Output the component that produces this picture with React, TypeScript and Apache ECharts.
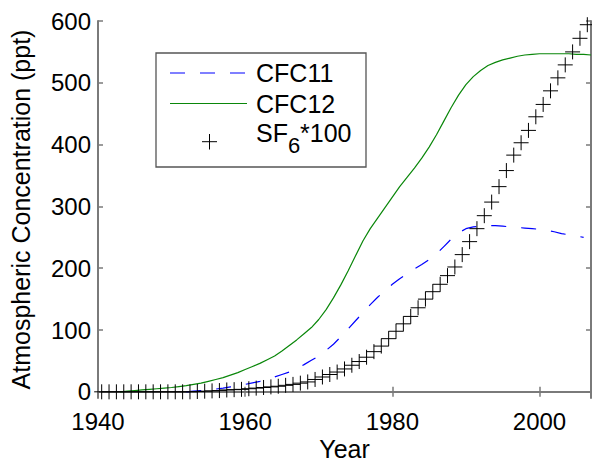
import React, { useEffect, useRef } from "react";
import * as echarts from "echarts";

const xTickValues = [1940, 1960, 1980, 2000];
const yTickValues = [0, 100, 200, 300, 400, 500, 600];

const cfc11Years = [
  1952, 1953, 1954, 1955, 1956, 1957, 1958, 1959, 1960, 1961, 1962, 1963, 1964, 1965,
  1966, 1967, 1968, 1969, 1970, 1971, 1972, 1973, 1974, 1975, 1976, 1977, 1978, 1979,
  1980, 1981, 1982, 1983, 1984, 1985, 1986, 1987, 1988, 1989, 1990, 1991, 1992, 1993,
  1994, 1995, 1996, 1997, 1998, 1999, 2000, 2001, 2002, 2003, 2004, 2005, 2006,
];
const cfc11Values = [
  0, 1, 2, 3, 4.5, 6, 8, 10, 12, 14.5, 17, 20, 24, 28,
  32, 38, 44, 51, 58, 67, 77, 89, 102, 115, 128, 141, 153, 164,
  174, 183, 191, 199, 206, 214, 223, 235, 247, 257, 264, 267, 268, 269,
  269, 268, 267, 266, 265, 264, 263, 261, 259, 256, 254, 252, 250,
];

const cfc12Years = [
  1943, 1944, 1945, 1946, 1947, 1948, 1949, 1950, 1951, 1952, 1953, 1954, 1955, 1956,
  1957, 1958, 1959, 1960, 1961, 1962, 1963, 1964, 1965, 1966, 1967, 1968, 1969, 1970,
  1971, 1972, 1973, 1974, 1975, 1976, 1977, 1978, 1979, 1980, 1981, 1982, 1983, 1984,
  1985, 1986, 1987, 1988, 1989, 1990, 1991, 1992, 1993, 1994, 1995, 1996, 1997, 1998,
  1999, 2000, 2001, 2002, 2003, 2004, 2005, 2006, 2007,
];
const cfc12Values = [
  0, 1, 2, 3, 4, 5, 6, 7, 8.5, 10, 12, 14, 17, 20,
  23, 27, 31, 36, 41, 46, 52, 58, 66, 75, 84, 94, 104, 117,
  133, 152, 173, 196, 220, 244, 264, 281, 298, 315, 332, 347, 362, 378,
  396, 416, 438, 460, 480, 497, 510, 520, 528, 533, 537, 540, 543, 545,
  546, 547, 547, 547, 547, 547, 546, 546, 545,
];

const sf6Years = [
  1940.5, 1941.5, 1942.5, 1943.5, 1944.5, 1945.5, 1946.5, 1947.5, 1948.5, 1949.5,
  1950.5, 1951.5, 1952.5, 1953.5, 1954.5, 1955.5, 1956.5, 1957.5, 1958.5, 1959.5,
  1960.5, 1961.5, 1962.5, 1963.5, 1964.5, 1965.5, 1966.5, 1967.5, 1968.5, 1969.5,
  1970.5, 1971.5, 1972.5, 1973.5, 1974.5, 1975.5, 1976.5, 1977.5, 1978.5, 1979.5,
  1980.5, 1981.5, 1982.5, 1983.5, 1984.5, 1985.5, 1986.5, 1987.5, 1988.5, 1989.5,
  1990.5, 1991.5, 1992.5, 1993.5, 1994.5, 1995.5, 1996.5, 1997.5, 1998.5, 1999.5,
  2000.5, 2001.5, 2002.5, 2003.5, 2004.5, 2005.5, 2006.5,
];
const sf6x100Values = [
  0, 0, 0, 0, 0, 0, 0, 0, 0, 0,
  0, 0, 0, 0.5, 1, 1.5, 2, 3, 3.5, 4,
  5, 6, 7, 8, 9, 10.5, 12, 14, 16, 20,
  24, 28, 32, 37, 43, 49, 56, 65, 74, 86,
  98, 110, 122, 136, 150, 162, 174, 188, 202, 222,
  243, 264, 285, 307, 332, 358, 383, 403, 423, 445,
  465, 487, 508, 529, 550, 572, 594,
];

const FONT = "Liberation Sans, Arial, Helvetica, sans-serif";
const AXIS_COLOR = "#7a7a7a";
const CROSS = "path://M7,0L7,14M0,7L14,7";

export default function App() {
  const ref = useRef<HTMLDivElement>(null);

  useEffect(() => {
    if (!ref.current) return;
    const chart = echarts.init(ref.current, undefined, { renderer: "svg" });

    const axisCommon = {
      type: "value" as const,
      splitLine: { show: false },
      axisLine: { show: true, lineStyle: { color: AXIS_COLOR, width: 2 } },
      axisTick: { show: true, inside: true, length: 5, lineStyle: { color: AXIS_COLOR, width: 1.5 } },
    };

    chart.setOption({
      animation: false,
      backgroundColor: "#fff",
      textStyle: { fontFamily: FONT },
      grid: {
        left: 98,
        top: 21,
        width: 493,
        height: 377,
        containLabel: false,
        outerBoundsMode: "none",
      },
      xAxis: [
        {
          ...axisCommon,
          position: "bottom",
          min: 1940,
          max: 2007,
          axisTick: { ...axisCommon.axisTick, customValues: xTickValues },
          axisLabel: {
            customValues: xTickValues,
            formatter: (v: number) => String(v),
            color: "#000",
            fontSize: 24,
            fontFamily: FONT,
            margin: 11,
          },
          name: "Year",
          nameLocation: "middle",
          nameGap: 38,
          nameMoveOverlap: false,
          nameTextStyle: { color: "#000", fontSize: 25, fontFamily: FONT },
        },
        {
          ...axisCommon,
          position: "top",
          min: 1940,
          max: 2007,
          axisTick: { ...axisCommon.axisTick, customValues: xTickValues },
          axisLabel: { show: false },
        },
      ],
      yAxis: [
        {
          ...axisCommon,
          position: "left",
          min: -10,
          max: 600,
          axisTick: { ...axisCommon.axisTick, customValues: yTickValues },
          axisLabel: {
            customValues: yTickValues,
            formatter: (v: number) => String(v),
            color: "#000",
            fontSize: 24,
            fontFamily: FONT,
            margin: 7,
          },
          name: "Atmospheric Concentration (ppt)",
          nameLocation: "middle",
          nameGap: 65,
          nameMoveOverlap: false,
          nameTextStyle: { color: "#000", fontSize: 25, fontFamily: FONT },
        },
        {
          ...axisCommon,
          position: "right",
          min: -10,
          max: 600,
          axisTick: { ...axisCommon.axisTick, customValues: yTickValues },
          axisLabel: { show: false },
        },
      ],
      series: [
        {
          name: "CFC11",
          type: "line",
          xAxisIndex: 0,
          yAxisIndex: 0,
          showSymbol: false,
          symbol: "none",
          data: cfc11Years.map((y, i) => [y, cfc11Values[i]]),
          lineStyle: { color: "#0000ff", width: 1.2, type: [15, 15] },
          z: 3,
        },
        {
          name: "CFC12",
          type: "line",
          xAxisIndex: 0,
          yAxisIndex: 0,
          showSymbol: false,
          symbol: "none",
          data: cfc12Years.map((y, i) => [y, cfc12Values[i]]),
          lineStyle: { color: "#0a870a", width: 1.2 },
          z: 3,
        },
        {
          name: "SF6*100",
          type: "scatter",
          xAxisIndex: 0,
          yAxisIndex: 0,
          symbol: CROSS,
          symbolSize: 15,
          clip: false,
          data: sf6Years.map((y, i) => [y, sf6x100Values[i]]),
          itemStyle: { color: "#000", borderColor: "#000", borderWidth: 1, opacity: 1 },
          z: 4,
        },
      ],
      graphic: [
        {
          type: "rect",
          shape: { x: 156, y: 53, width: 210, height: 114 },
          style: { fill: "#fff", stroke: "#555", lineWidth: 1.3 },
          z: 10,
        },
        {
          type: "line",
          shape: { x1: 170, y1: 73, x2: 247, y2: 73 },
          style: { stroke: "#0000ff", lineWidth: 1.2, lineDash: [15, 15] },
          z: 11,
        },
        {
          type: "line",
          shape: { x1: 170, y1: 103.5, x2: 247, y2: 103.5 },
          style: { stroke: "#0a870a", lineWidth: 1.2 },
          z: 11,
        },
        {
          type: "line",
          shape: { x1: 202, y1: 141.7, x2: 217, y2: 141.7 },
          style: { stroke: "#000", lineWidth: 1 },
          z: 11,
        },
        {
          type: "line",
          shape: { x1: 209.5, y1: 134, x2: 209.5, y2: 149.5 },
          style: { stroke: "#000", lineWidth: 1 },
          z: 11,
        },
        {
          type: "text",
          x: 256,
          y: 73,
          style: { text: "CFC11", fill: "#000", font: `25px ${FONT}`, verticalAlign: "middle", align: "left" },
          z: 11,
        },
        {
          type: "text",
          x: 256,
          y: 104,
          style: { text: "CFC12", fill: "#000", font: `25px ${FONT}`, verticalAlign: "middle", align: "left" },
          z: 11,
        },
        {
          type: "text",
          x: 256,
          y: 132.5,
          style: { text: "SF", fill: "#000", font: `25px ${FONT}`, verticalAlign: "middle", align: "left" },
          z: 11,
        },
        {
          type: "text",
          x: 288,
          y: 145,
          style: { text: "6", fill: "#000", font: `22px ${FONT}`, verticalAlign: "middle", align: "left" },
          z: 11,
        },
        {
          type: "text",
          x: 300,
          y: 132.5,
          style: { text: "*100", fill: "#000", font: `25px ${FONT}`, verticalAlign: "middle", align: "left" },
          z: 11,
        },
      ],
    });

    return () => {
      chart.dispose();
    };
  }, []);

  return (
    <div
      ref={ref}
      style={{ position: "fixed", left: 0, top: 0, width: 592, height: 461, background: "#fff" }}
    />
  );
}
